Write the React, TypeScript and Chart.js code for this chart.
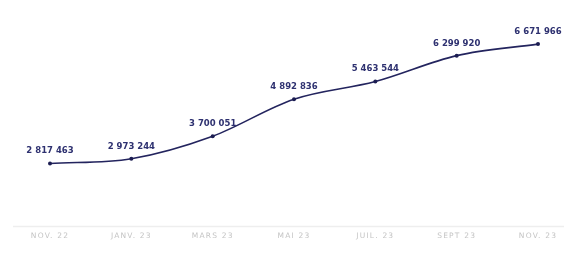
import React, { useEffect, useRef } from "react";
import { Chart, registerables } from "chart.js";

Chart.register(...registerables);

const categories = ["NOV. 22", "JANV. 23", "MARS 23", "MAI 23", "JUIL. 23", "SEPT 23", "NOV. 23"];
const values = [2817463, 2973244, 3700051, 4892836, 5463544, 6299920, 6671966];

const fmt = (v: number) => String(v).replace(/\B(?=(\d{3})+(?!\d))/g, " ");

const labelPlugin = {
  id: "valueLabels",
  afterDatasetsDraw(chart: any) {
    const ctx = chart.ctx;
    const meta = chart.getDatasetMeta(0);
    ctx.save();
    ctx.font = "bold 8.5px 'DejaVu Sans', sans-serif";
    ctx.fillStyle = "#2e3170";
    ctx.textAlign = "center";
    ctx.textBaseline = "bottom";
    meta.data.forEach((pt: any, i: number) => {
      ctx.fillText(fmt(values[i]), pt.x, pt.y - 8);
    });
    ctx.restore();
  },
};

const axisLinePlugin = {
  id: "axisLine",
  beforeDraw(chart: any) {
    (chart.ctx as any).letterSpacing = "1.2px";
  },
  beforeDatasetsDraw(chart: any) {
    const ctx = chart.ctx;
    (ctx as any).letterSpacing = "0px";
    const y = chart.chartArea.bottom + 0.5;
    ctx.save();
    ctx.strokeStyle = "#eeeeee";
    ctx.lineWidth = 1.5;
    ctx.beginPath();
    ctx.moveTo(13, y);
    ctx.lineTo(chart.width - 8, y);
    ctx.stroke();
    ctx.restore();
  },
};

export default function App() {
  const ref = useRef<HTMLCanvasElement>(null);
  useEffect(() => {
    document.body.style.margin = "0";
    const chart = new Chart(ref.current!, {
      type: "line",
      data: {
        labels: categories,
        datasets: [
          {
            data: values,
            borderColor: "#23245e",
            backgroundColor: "#23245e",
            borderWidth: 1.6,
            pointRadius: 2,
            pointBackgroundColor: "#1c1d52",
            pointBorderWidth: 0,
            cubicInterpolationMode: "monotone",
            fill: false,
          },
        ],
      },
      options: {
        animation: false,
        responsive: true,
        maintainAspectRatio: false,
        layout: { padding: { left: 50, right: 34, top: 20, bottom: 12 } },
        plugins: { legend: { display: false }, tooltip: { enabled: false } },
        scales: {
          x: {
            offset: false,
            grid: { display: false, drawTicks: false },
            border: { display: false },
            ticks: {
              color: "#c4c4c4",
              font: { size: 7.5, family: "'DejaVu Sans', sans-serif" },
              padding: 6,
              maxRotation: 0,
              autoSkip: false,
            },
          },
          y: {
            display: false,
            min: 800000,
            max: 7450000,
          },
        },
      },
      plugins: [labelPlugin, axisLinePlugin],
    });
    return () => chart.destroy();
  }, []);
  return (
    <div style={{ width: 572, height: 259, position: "relative", background: "#fff" }}>
      <canvas ref={ref} />
    </div>
  );
}
